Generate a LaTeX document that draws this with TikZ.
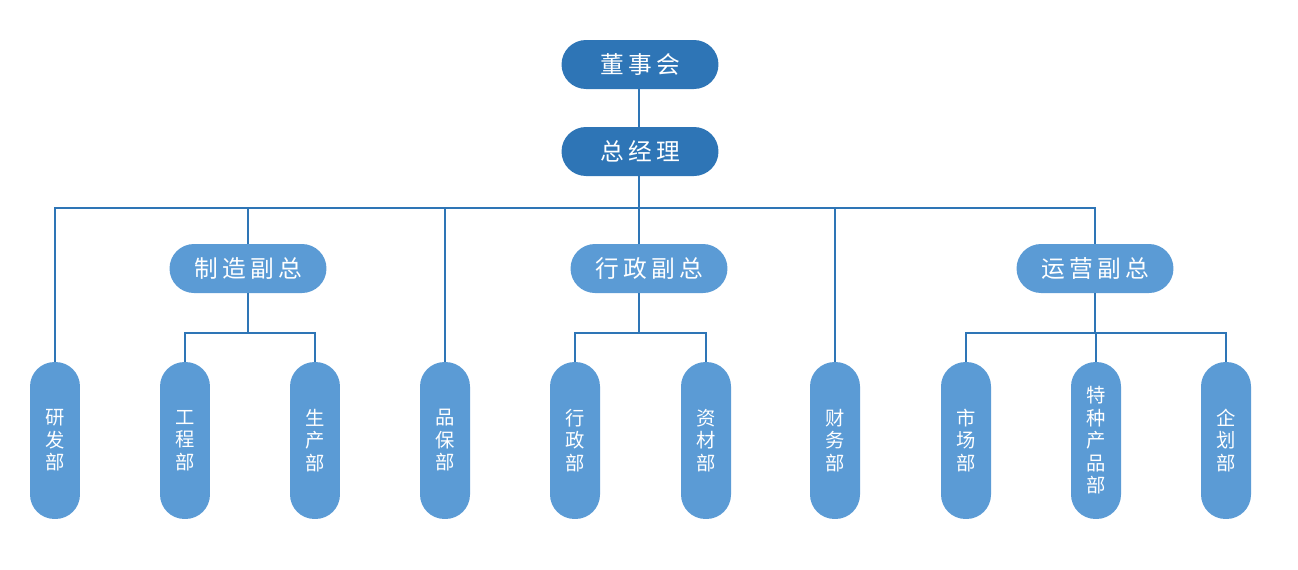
\documentclass[tikz,border=0pt]{standalone}
\usepackage{fontspec}
\setmainfont{Noto Sans CJK SC}
\newfontfamily\cjkwide[LetterSpace=18]{Noto Sans CJK SC}
\definecolor{darkblue}{HTML}{2E75B6}
\definecolor{lightblue}{HTML}{5B9BD5}

\begin{document}
\begin{tikzpicture}[x=0.02cm,y=-0.02cm]
    \tikzstyle{topblock} = [rectangle, rounded corners=0.49cm, fill=darkblue,
    text=white, minimum width=3.14cm, minimum height=0.98cm, inner sep=0pt,
               font=\cjkwide\fontsize{13.5}{16}\selectfont]
    \tikzstyle{vpblock} = [topblock, fill=lightblue]
    \tikzstyle{dept} = [rectangle, rounded corners=0.49cm, fill=lightblue,
    text=white, minimum width=1cm, minimum height=3.14cm, inner sep=0pt,
               align=center,
               font=\fontsize{11}{12.8}\selectfont]
    \tikzstyle{line} = [draw=darkblue, line width=1.1pt]

    \useasboundingbox (0,0) rectangle (1298,569);

    % Top of the chart
    \node[topblock] (dsh) at (640,64.5) {董事会};
    \node[topblock] (zjl) at (640,151.5) {总经理};

    % Vice presidents
    \node[vpblock] (zz) at (248,268.5) {制造副总};
    \node[vpblock] (xz) at (649,268.5) {行政副总};
    \node[vpblock] (yy) at (1095,268.5) {运营副总};

    % Departments
    \node[dept] (yf)  at (55,440.5)   {研\\发\\部};
    \node[dept] (gc)  at (185,440.5)  {工\\程\\部};
    \node[dept] (sc)  at (315,440.5)  {生\\产\\部};
    \node[dept] (pb)  at (445,440.5)  {品\\保\\部};
    \node[dept] (xzb) at (575,440.5)  {行\\政\\部};
    \node[dept] (zc)  at (706,440.5)  {资\\材\\部};
    \node[dept] (cw)  at (835,440.5)  {财\\务\\部};
    \node[dept] (shc) at (966,440.5)  {市\\场\\部};
    \node[dept] (tz)  at (1096,440.5) {特\\种\\产\\品\\部};
    \node[dept] (qh)  at (1226,440.5) {企\\划\\部};

    % Bus lines
    \coordinate (bus) at (639,208);
    \coordinate (subbus) at (639,333);

    \draw[line] (bus |- dsh.south) -- (bus |- zjl.north);
    \foreach \n in {yf,zz,pb,cw,yy}
      \draw[line] (bus |- zjl.south) -- (bus) -| (\n.north);
    \draw[line] (bus |- zjl.south) -- (bus |- xz.north);

    \foreach \n in {gc,sc}
      \draw[line] (zz.south) -- (zz.south |- subbus) -| (\n.north);
    \foreach \n in {xzb,zc}
      \draw[line] (subbus |- xz.south) -- (subbus) -| (\n.north);
    \foreach \n in {shc,tz,qh}
      \draw[line] (yy.south) -- (yy.south |- subbus) -| (\n.north);

\end{tikzpicture}
\end{document}
